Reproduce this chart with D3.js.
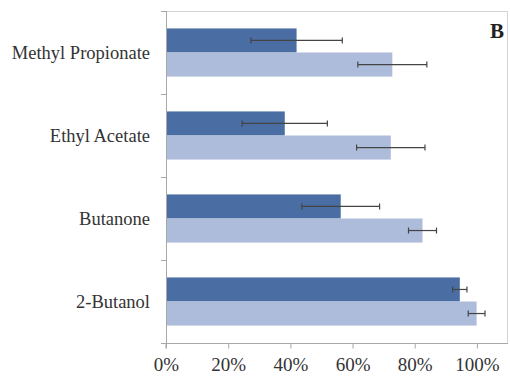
<!DOCTYPE html>
<html>
<head>
<meta charset="utf-8">
<script src="https://cdn.jsdelivr.net/npm/d3@7"></script>
<style>
  html, body { margin: 0; padding: 0; background: #fff; }
  svg { display: block; }
</style>
</head>
<body>
<div id="chart"></div>
<script>
// Compounds, listed top to bottom
const categories = ["Methyl Propionate", "Ethyl Acetate", "Butanone", "2-Butanol"];
// Two series per compound (dark = first bar, light = second bar)
const seriesDark = [0.42, 0.382, 0.562, 0.945];
const seriesDarkErr = [0.147, 0.137, 0.125, 0.023];
const seriesLight = [0.728, 0.723, 0.825, 0.999];
const seriesLightErr = [0.111, 0.110, 0.045, 0.027];
const xTicks = [0, 0.2, 0.4, 0.6, 0.8, 1.0];
const panelLabel = "B";

const FONT = "'Liberation Serif', 'Times New Roman', Times, serif";
const W = 510, H = 376;
const margin = { top: 11, right: 2, bottom: 33, left: 166 };
const iw = W - margin.left - margin.right;
const ih = H - margin.top - margin.bottom;

const svg = d3.select("#chart").append("svg").attr("width", W).attr("height", H)
  .attr("font-family", FONT);
const g = svg.append("g").attr("transform", `translate(${margin.left},${margin.top})`);

const x = d3.scaleLinear().domain([0, 1.1]).range([0, iw]);
const y = d3.scaleBand().domain(categories).range([0, ih]).paddingInner(0.42).paddingOuter(0.21);
const sub = d3.scaleBand().domain(["dark", "light"]).range([0, y.bandwidth()]);

// Plot frame (top and right edges)
g.append("path")
  .attr("d", `M0,0.5H${iw - 0.5}V${ih}`)
  .attr("fill", "none").attr("stroke", "#d4d4d4").attr("stroke-width", 1);

const rows = categories.map((c, i) => ({
  c,
  bars: [
    { key: "dark", v: seriesDark[i], e: seriesDarkErr[i], color: "#4a6ea3" },
    { key: "light", v: seriesLight[i], e: seriesLightErr[i], color: "#adbcda" }
  ]
}));

const grp = g.selectAll("g.row").data(rows).join("g")
  .attr("class", "row")
  .attr("transform", d => `translate(0,${y(d.c)})`);

grp.selectAll("rect").data(d => d.bars).join("rect")
  .attr("x", x(0))
  .attr("y", d => sub(d.key))
  .attr("width", d => x(d.v) - x(0))
  .attr("height", sub.bandwidth())
  .attr("fill", d => d.color);

// Error bars
const eb = grp.selectAll("g.err").data(d => d.bars).join("g").attr("class", "err")
  .attr("transform", d => `translate(0,${sub(d.key) + sub.bandwidth() / 2})`)
  .attr("stroke", "#444").attr("stroke-width", 1.2);
eb.append("line").attr("x1", d => x(d.v - d.e)).attr("x2", d => x(d.v + d.e)).attr("y1", 0).attr("y2", 0);
eb.append("line").attr("x1", d => x(d.v - d.e)).attr("x2", d => x(d.v - d.e)).attr("y1", -3).attr("y2", 3);
eb.append("line").attr("x1", d => x(d.v + d.e)).attr("x2", d => x(d.v + d.e)).attr("y1", -3).attr("y2", 3);

// Left category axis: ticks at band boundaries
const yAxisG = g.append("g");
yAxisG.append("line").attr("x1", 0.5).attr("x2", 0.5).attr("y1", 0).attr("y2", ih)
  .attr("stroke", "#a8a8a8");
const bounds = [0].concat(categories.map(c => y(c) + y.bandwidth() + y.step() * y.paddingInner() / 2));
bounds[bounds.length - 1] = ih;
yAxisG.selectAll("line.tk").data(bounds).join("line").attr("class", "tk")
  .attr("x1", -5).attr("x2", 0.5).attr("y1", d => Math.round(d) + 0.5).attr("y2", d => Math.round(d) + 0.5)
  .attr("stroke", "#a8a8a8");
yAxisG.selectAll("text").data(categories).join("text")
  .attr("x", -16)
  .attr("y", d => y(d) + y.bandwidth() / 2)
  .attr("dy", "0.35em")
  .attr("text-anchor", "end")
  .attr("font-family", FONT)
  .attr("font-size", 18.5)
  .attr("fill", "#333")
  .text(d => d);

// Bottom value axis
const xAxis = d3.axisBottom(x).tickValues(xTicks).tickFormat(d3.format(".0%")).tickSize(5).tickPadding(9);
const xg = g.append("g").attr("transform", `translate(0,${ih + 0.5})`).call(xAxis);
xg.attr("font-family", FONT);
xg.select(".domain").attr("stroke", "#a8a8a8").attr("d", `M0,5V0H${iw}`);
xg.selectAll(".tick line").attr("stroke", "#a8a8a8");
xg.selectAll(".tick text").attr("font-size", 19).attr("fill", "#333");

// Panel label
svg.append("text").attr("x", 504).attr("y", 38).attr("text-anchor", "end")
  .attr("font-family", FONT)
  .attr("font-size", 21).attr("font-weight", "bold").attr("fill", "#222").text(panelLabel);
</script>
</body>
</html>
